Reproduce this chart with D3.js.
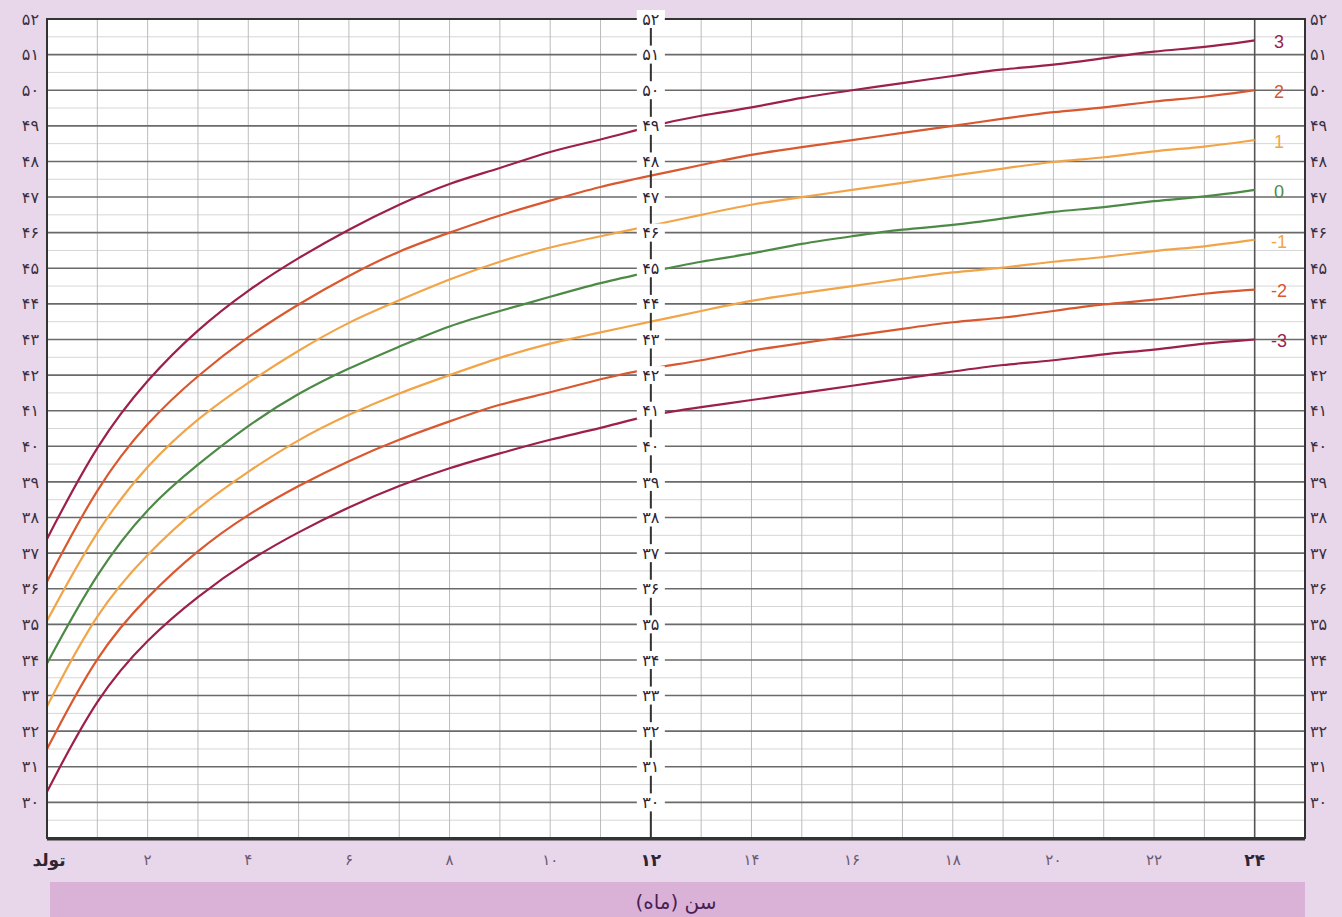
<!DOCTYPE html>
<html>
<head>
<meta charset="utf-8">
<script src="https://cdn.jsdelivr.net/npm/d3@7"></script>
<style>
  body { margin: 0; background: #e8d6ea; }
  svg { display: block; font-family: "DejaVu Sans", sans-serif; }
</style>
</head>
<body>
<svg id="chart"></svg>
<script>
var months = d3.range(0, 25);

// head circumference (cm), one value per month
var sdPlus3  = [37.4, 40.1, 41.9, 43.3, 44.4, 45.3, 46.1, 46.8, 47.4, 47.8, 48.3, 48.6, 49.0, 49.3, 49.5, 49.8, 50.0, 50.2, 50.4, 50.6, 50.7, 50.9, 51.1, 51.2, 51.4];
var sdPlus2  = [36.2, 38.9, 40.7, 42.0, 43.1, 44.0, 44.8, 45.5, 46.0, 46.5, 46.9, 47.3, 47.6, 47.9, 48.2, 48.4, 48.6, 48.8, 49.0, 49.2, 49.4, 49.5, 49.7, 49.8, 50.0];
var sdPlus1  = [35.1, 37.7, 39.5, 40.8, 41.8, 42.7, 43.5, 44.1, 44.7, 45.2, 45.6, 45.9, 46.2, 46.5, 46.8, 47.0, 47.2, 47.4, 47.6, 47.8, 48.0, 48.1, 48.3, 48.4, 48.6];
var median   = [33.9, 36.5, 38.3, 39.5, 40.6, 41.5, 42.2, 42.8, 43.4, 43.8, 44.2, 44.6, 44.9, 45.2, 45.4, 45.7, 45.9, 46.1, 46.2, 46.4, 46.6, 46.7, 46.9, 47.0, 47.2];
var sdMinus1 = [32.7, 35.4, 37.0, 38.3, 39.3, 40.2, 40.9, 41.5, 42.0, 42.5, 42.9, 43.2, 43.5, 43.8, 44.1, 44.3, 44.5, 44.7, 44.9, 45.0, 45.2, 45.3, 45.5, 45.6, 45.8];
var sdMinus2 = [31.5, 34.2, 35.8, 37.1, 38.1, 38.9, 39.6, 40.2, 40.7, 41.2, 41.5, 41.9, 42.2, 42.4, 42.7, 42.9, 43.1, 43.3, 43.5, 43.6, 43.8, 44.0, 44.1, 44.3, 44.4];
var sdMinus3 = [30.3, 33.0, 34.6, 35.8, 36.8, 37.6, 38.3, 38.9, 39.4, 39.8, 40.2, 40.5, 40.9, 41.1, 41.3, 41.5, 41.7, 41.9, 42.1, 42.3, 42.4, 42.6, 42.7, 42.9, 43.0];

var seriesNames  = ["3", "2", "1", "0", "-1", "-2", "-3"];
var seriesValues = [sdPlus3, sdPlus2, sdPlus1, median, sdMinus1, sdMinus2, sdMinus3];
var seriesColors = ["#9c1f4c", "#d9582f", "#f2a548", "#4d8a46", "#f2a548", "#d9582f", "#9c1f4c"];

var yTicks = d3.range(30, 53);
var xTicks = [0, 2, 4, 6, 8, 10, 12, 14, 16, 18, 20, 22, 24];
var xTickLabels = ["تولد", "۲", "۴", "۶", "۸", "۱۰", "۱۲", "۱۴", "۱۶", "۱۸", "۲۰", "۲۲", "۲۴"];
var xTitle = "سن (ماه)";

function fa(n) {
  return String(n).replace(/\d/g, function(c) { return "۰۱۲۳۴۵۶۷۸۹"[+c]; });
}

var W = 1342, H = 917;
var svg = d3.select("#chart").attr("width", W).attr("height", H);

svg.append("rect").attr("width", W).attr("height", H).attr("fill", "#e8d6ea");

var x = d3.scaleLinear().domain([0, 25]).range([47, 1305]);
var y = d3.scaleLinear().domain([29, 52]).range([838, 19]);

// plot background
svg.append("rect")
  .attr("x", x(0)).attr("y", y(52))
  .attr("width", x(25) - x(0)).attr("height", y(29) - y(52))
  .attr("fill", "#ffffff");

// minor horizontal grid
svg.append("g").selectAll("line")
  .data(d3.range(29.5, 52, 1))
  .enter().append("line")
  .attr("x1", x(0)).attr("x2", x(25))
  .attr("y1", function(d) { return y(d); })
  .attr("y2", function(d) { return y(d); })
  .attr("stroke", "#d6d6d6").attr("stroke-width", 1);

// vertical grid, one line per month
svg.append("g").selectAll("line")
  .data(d3.range(1, 24))
  .enter().append("line")
  .attr("x1", function(d) { return x(d); })
  .attr("x2", function(d) { return x(d); })
  .attr("y1", y(52)).attr("y2", y(29))
  .attr("stroke", "#bcbcbc").attr("stroke-width", 1);

// major horizontal grid
svg.append("g").selectAll("line")
  .data(d3.range(30, 52))
  .enter().append("line")
  .attr("x1", x(0)).attr("x2", x(25))
  .attr("y1", function(d) { return y(d); })
  .attr("y2", function(d) { return y(d); })
  .attr("stroke", "#6a6a6a").attr("stroke-width", 1.6);

// 24 month line
svg.append("line")
  .attr("x1", x(24)).attr("x2", x(24))
  .attr("y1", y(52)).attr("y2", y(29))
  .attr("stroke", "#555").attr("stroke-width", 1.6);

// curves
var line = d3.line()
  .x(function(d, i) { return x(months[i]); })
  .y(function(d) { return y(d); })
  .curve(d3.curveBasis);

svg.append("g").selectAll("path")
  .data(seriesValues)
  .enter().append("path")
  .attr("d", line)
  .attr("fill", "none")
  .attr("stroke", function(d, i) { return seriesColors[i]; })
  .attr("stroke-width", 2.2);

// z-score labels at the right
svg.append("g").selectAll("text")
  .data(seriesValues)
  .enter().append("text")
  .attr("x", 1279)
  .attr("y", function(d) { return y(d[24]) + 3; })
  .attr("text-anchor", "middle")
  .attr("dominant-baseline", "middle")
  .attr("fill", function(d, i) { return seriesColors[i]; })
  .style("font-family", "Liberation Sans, sans-serif")
  .style("font-size", "18px")
  .text(function(d, i) { return seriesNames[i]; });

// central axis at 12 months
svg.append("line")
  .attr("x1", x(12)).attr("x2", x(12))
  .attr("y1", y(52)).attr("y2", y(29))
  .attr("stroke", "#333").attr("stroke-width", 2);

var mid = svg.append("g").selectAll("g")
  .data(yTicks)
  .enter().append("g")
  .attr("transform", function(d) { return "translate(" + x(12) + "," + y(d) + ")"; });

mid.append("rect")
  .attr("x", -14).attr("y", -9)
  .attr("width", 28).attr("height", 18)
  .attr("fill", "#ffffff");

mid.append("text")
  .attr("text-anchor", "middle")
  .attr("dy", "0.35em")
  .attr("fill", "#2e2433")
  .style("font-size", "16px")
  .text(function(d) { return fa(d); });

// plot border
svg.append("rect")
  .attr("x", x(0)).attr("y", y(52))
  .attr("width", x(25) - x(0)).attr("height", y(29) - y(52))
  .attr("fill", "none").attr("stroke", "#333").attr("stroke-width", 2);
svg.append("line")
  .attr("x1", x(0)).attr("x2", x(25))
  .attr("y1", y(29) + 1).attr("y2", y(29) + 1)
  .attr("stroke", "#333").attr("stroke-width", 3);

// redraw the top centre label over the border
svg.append("rect")
  .attr("x", x(12) - 14).attr("y", y(52) - 9)
  .attr("width", 28).attr("height", 18)
  .attr("fill", "#ffffff");
svg.append("text")
  .attr("x", x(12)).attr("y", y(52))
  .attr("text-anchor", "middle")
  .attr("dy", "0.35em")
  .attr("fill", "#2e2433")
  .style("font-size", "16px")
  .text(fa(52));

// left and right axes
svg.append("g").selectAll("text")
  .data(yTicks)
  .enter().append("text")
  .attr("x", 39)
  .attr("y", function(d) { return y(d); })
  .attr("dy", "0.35em")
  .attr("text-anchor", "end")
  .attr("fill", "#3a2f40")
  .style("font-size", "16px")
  .text(function(d) { return fa(d); });

svg.append("g").selectAll("text")
  .data(yTicks)
  .enter().append("text")
  .attr("x", 1310)
  .attr("y", function(d) { return y(d); })
  .attr("dy", "0.35em")
  .attr("text-anchor", "start")
  .attr("fill", "#3a2f40")
  .style("font-size", "16px")
  .text(function(d) { return fa(d); });

// bottom axis labels
svg.append("g").selectAll("text")
  .data(xTicks)
  .enter().append("text")
  .attr("x", function(d) { return d === 0 ? x(d) + 2 : x(d); })
  .attr("y", 860)
  .attr("dy", "0.35em")
  .attr("text-anchor", "middle")
  .attr("fill", function(d) { return (d === 0 || d === 12 || d === 24) ? "#2e2433" : "#6b5a70"; })
  .style("font-weight", function(d) { return (d === 0 || d === 12 || d === 24) ? "bold" : "normal"; })
  .style("font-size", function(d) { return (d === 0 || d === 12 || d === 24) ? "17px" : "15px"; })
  .text(function(d, i) { return xTickLabels[i]; });

// title band
svg.append("rect")
  .attr("x", 50).attr("y", 882)
  .attr("width", 1255).attr("height", 35)
  .attr("fill", "#dbb2d7");

svg.append("text")
  .attr("x", 676).attr("y", 902)
  .attr("dy", "0.35em")
  .attr("text-anchor", "middle")
  .attr("fill", "#4a1f52")
  .style("font-size", "20px")
  .text(xTitle);
</script>
</body>
</html>
